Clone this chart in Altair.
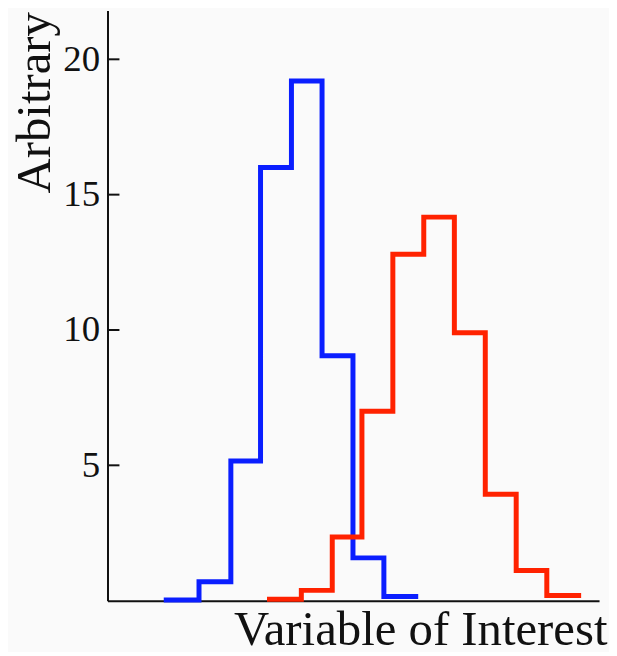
import altair as alt
import pandas as pd

# Bin edges (abstract units) and heights
blue_edges = [1.90, 2.96, 3.99, 4.95, 5.95, 6.94, 7.94, 8.94, 9.97]
blue_counts = [0.02, 0.70, 5.16, 16.0, 19.2, 9.05, 1.58, 0.15]
red_edges = [5.24, 6.27, 7.27, 8.23, 9.23, 10.23, 11.22, 12.22, 13.22, 14.21, 15.24]
red_counts = [0.05, 0.38, 2.35, 7.0, 12.8, 14.17, 9.9, 3.93, 1.11, 0.19]
y_ticks = [5, 10, 15, 20]

rows = []
for name, edges, counts in [("blue", blue_edges, blue_counts), ("red", red_edges, red_counts)]:
    for i, e in enumerate(edges):
        rows.append({"series": name, "x": e, "y": counts[min(i, len(counts) - 1)], "order": i})
df = pd.DataFrame(rows)
ticks_df = pd.DataFrame({"y": y_ticks})

xscale = alt.Scale(domain=[0, 15.9], nice=False, zero=False)
yscale = alt.Scale(domain=[0, 21.8], nice=False, zero=False)

y_axis = alt.Axis(
    title="Arbitrary", values=y_ticks, ticks=False, grid=False,
    domain=True, domainColor="#111111", domainWidth=2,
    labelFont="Liberation Serif", labelFontSize=37, labelColor="#111111",
    labelPadding=8,
    titleFont="Liberation Serif", titleFontSize=49, titleFontWeight="normal",
    titleColor="#111111", titleAngle=270, titleX=-58, titleY=1,
    titleAlign="right", titleBaseline="alphabetic",
)
x_axis = alt.Axis(
    title="Variable of Interest", labels=False, ticks=False, grid=False,
    domain=True, domainColor="#111111", domainWidth=2,
    titleFont="Liberation Serif", titleFontSize=49, titleFontWeight="normal",
    titleColor="#111111", titleX=502, titleY=44, titleAlign="right",
    titleBaseline="alphabetic", titleAnchor="end",
)

tick_marks = alt.Chart(ticks_df).mark_rule(color="#111111", strokeWidth=2).encode(
    y=alt.Y("y:Q", scale=yscale, axis=y_axis),
    x=alt.value(0),
    x2=alt.value(12),
)

lines = alt.Chart(df).mark_line(
    interpolate="step-after", strokeWidth=5, strokeJoin="miter", strokeCap="square"
).encode(
    x=alt.X("x:Q", scale=xscale, axis=x_axis),
    y=alt.Y("y:Q", scale=yscale, axis=y_axis),
    color=alt.Color("series:N", scale=alt.Scale(domain=["blue", "red"], range=["#0a1eff", "#ff2200"]), legend=None),
    detail="series:N",
    order="order:Q",
)

chart = alt.layer(tick_marks, lines).properties(
    width=494, height=593,
    autosize=alt.AutoSizeParams(type="none"),
    padding={"left": 100, "top": 1, "right": 10, "bottom": 50},
    background="#fafafa",
).configure_view(stroke=None)

chart.save("out.html", embed_options={"renderer": "svg", "actions": False})
